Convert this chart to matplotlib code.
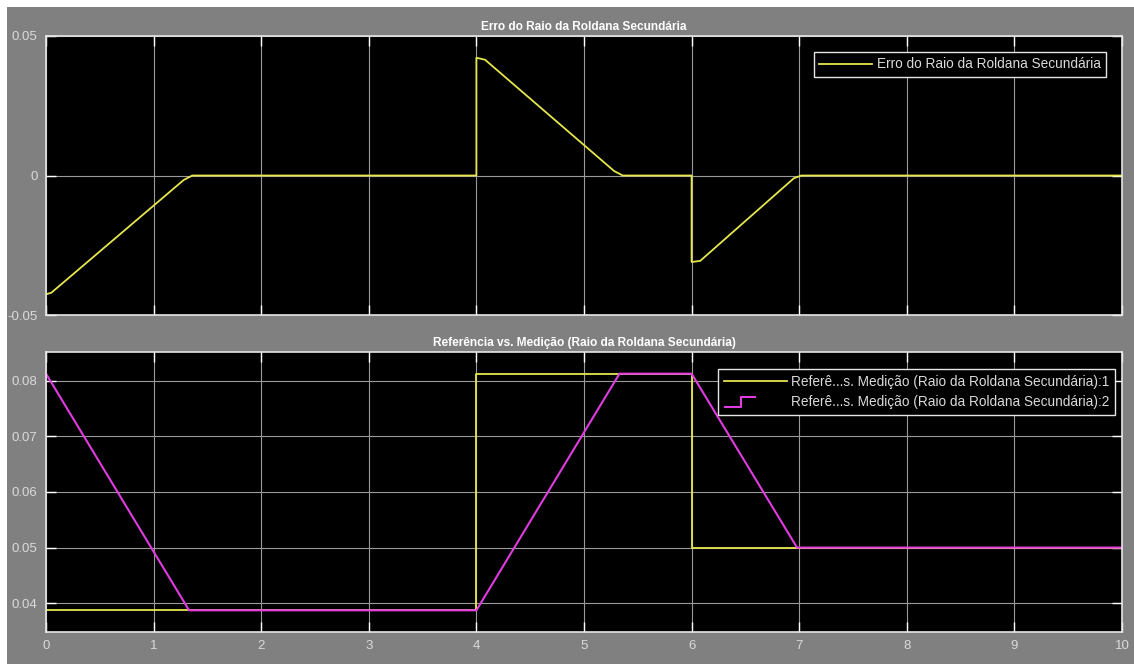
import matplotlib
matplotlib.use("Agg")
import matplotlib.pyplot as plt
from matplotlib.lines import Line2D
from matplotlib.legend_handler import HandlerBase
from matplotlib.patches import Rectangle

# Signal breakpoints (time in s, radius in m)
t_ref = [0.0, 4.0, 6.0, 10.0]
ref_radius = [0.0387, 0.0813, 0.0500, 0.0500]

t_meas = [0.0, 1.33, 4.0, 5.33, 6.0, 6.98, 10.0]
meas_radius = [0.0813, 0.0387, 0.0387, 0.0813, 0.0813, 0.0500, 0.0500]

t_err = [0.0, 0.05, 1.28, 1.36, 4.0, 4.0, 4.08, 5.28, 5.36, 6.0, 6.0, 6.08, 6.95, 7.02, 10.0]
err_radius = [-0.0426, -0.0420, -0.0016, 0.0, 0.0, 0.0422, 0.0415, 0.0016, 0.0,
              0.0, -0.0310, -0.0306, -0.0010, 0.0, 0.0]

top_title = "Erro do Raio da Roldana Secundária"
bottom_title = "Referência vs. Medição (Raio da Roldana Secundária)"
err_label = "Erro do Raio da Roldana Secundária"
ref_label = "Referê...s. Medição (Raio da Roldana Secundária):1"
meas_label = "Referê...s. Medição (Raio da Roldana Secundária):2"

x_ticks = list(range(0, 11))
top_yticks = [-0.05, 0, 0.05]
top_yticklabels = ["-0.05", "0", "0.05"]
bottom_yticks = [0.04, 0.05, 0.06, 0.07, 0.08]
bottom_yticklabels = ["0.04", "0.05", "0.06", "0.07", "0.08"]

YELLOW = "#E6E64E"
MAGENTA = "#E03CE0"
PANEL = "#808080"
TEXT = "#DADADA"
GRID = "#9A9A9A"
FRAME = "#E6E6E6"

plt.rcParams["font.family"] = ["Liberation Sans", "DejaVu Sans"]

W, H = 1134, 664
fig = plt.figure(figsize=(W / 100, H / 100), dpi=100, facecolor="white")
fig.patches.append(Rectangle((7 / W, 0), 1 - 7 / W, 1 - 7 / H, transform=fig.transFigure,
                             facecolor=PANEL, edgecolor="none", zorder=-10))


def px_axes(left, top, right, bottom):
    return fig.add_axes([left / W, 1 - bottom / H, (right - left) / W, (bottom - top) / H])


class StepHandler(HandlerBase):
    """Legend icon drawn as a small rising step."""

    def create_artists(self, legend, orig_handle, xdescent, ydescent, width, height,
                       fontsize, trans):
        x0 = -xdescent + width * 0.02
        xm = x0 + width * 0.26
        x1 = x0 + width * 0.48
        ylo = -ydescent - height * 0.15
        yhi = -ydescent + height * 0.95
        ln = Line2D([x0, xm, xm, x1], [ylo, ylo, yhi, yhi],
                    color=orig_handle.get_color(), lw=orig_handle.get_linewidth(),
                    transform=trans)
        return [ln]


def style_axes(ax, yticks, yticklabels, ylim, show_xlabels):
    ax.set_facecolor("black")
    ax.set_xlim(0, 10)
    ax.set_ylim(*ylim)
    ax.set_xticks(x_ticks)
    ax.set_yticks(yticks)
    ax.set_yticklabels(yticklabels)
    if not show_xlabels:
        ax.set_xticklabels([])
    ax.grid(True, color=GRID, linewidth=0.8)
    ax.tick_params(direction="in", length=7, width=1, color="white",
                   labelcolor=TEXT, labelsize=9.5, top=True, right=True, pad=6)
    for sp in ax.spines.values():
        sp.set_color(FRAME)
        sp.set_linewidth(1.2)


# Top panel: radius error
ax1 = px_axes(46, 36, 1122, 315)
style_axes(ax1, top_yticks, top_yticklabels, (-0.05, 0.05), False)
l_err, = ax1.plot(t_err, err_radius, color=YELLOW, lw=1.3)
ax1.set_title(top_title, color="white", fontsize=8.6, fontweight="bold", pad=4)
leg1 = ax1.legend([l_err], [err_label], loc="upper right",
                  bbox_to_anchor=(0.9851, 0.9427), borderaxespad=0,
                  facecolor="black", edgecolor=FRAME, framealpha=1, fancybox=False,
                  fontsize=9.8, labelcolor=TEXT, handlelength=3.9, handletextpad=0.3,
                  borderpad=0.4)
leg1.get_frame().set_linewidth(1.0)

# Bottom panel: reference vs. measurement
ax2 = px_axes(46, 352, 1122, 632)
style_axes(ax2, bottom_yticks, bottom_yticklabels, (0.0348, 0.0852), True)
l_ref, = ax2.step(t_ref, ref_radius, where="post", color=YELLOW, lw=1.3)
l_meas, = ax2.plot(t_meas, meas_radius, color=MAGENTA, lw=1.5)
ax2.set_title(bottom_title, color="white", fontsize=8.6, fontweight="bold", pad=4)
leg2 = ax2.legend([l_ref, l_meas], [ref_label, meas_label], loc="upper right",
                  bbox_to_anchor=(0.9935, 0.9393), borderaxespad=0,
                  facecolor="black", edgecolor=FRAME, framealpha=1, fancybox=False,
                  fontsize=9.8, labelcolor=TEXT, handlelength=4.6, handletextpad=0.3,
                  borderpad=0.45, labelspacing=0.4,
                  handler_map={l_meas: StepHandler()})
leg2.get_frame().set_linewidth(1.0)

fig.savefig("out.png", dpi=100, facecolor=fig.get_facecolor())
